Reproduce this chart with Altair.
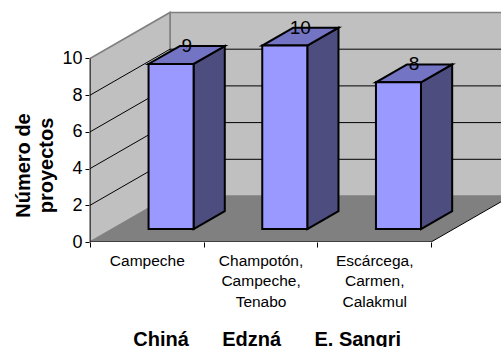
import json
import altair as alt
import pandas as pd

# ---------------- data ----------------
categories = ["Campeche", "Champotón, Campeche, Tenabo", "Escárcega, Carmen, Calakmul"]
category_lines = [["Campeche"], ["Champotón,", "Campeche,", "Tenabo"], ["Escárcega,", "Carmen,", "Calakmul"]]
values = [9, 10, 8]
groups = ["Chiná", "Edzná", "E. Sangri"]
y_ticks = [0, 2, 4, 6, 8, 10]
y_max = 10

# ---------------- 3D projection settings ----------------
PX_CAT = 113.7          # pixels per category on the front plane
PX_VAL = 18.35          # pixels per value unit
DX = 80 / PX_CAT        # depth offset (x) in category units
DY = 46 / PX_VAL        # depth offset (y) in value units
D0, D1 = 0.28, 0.67     # bar depth (front / back)
B0, B1 = 0.318, 0.714   # bar extent inside a category
N = len(values)
W, H = 411, 232
XMAX = W / PX_CAT
YMAX = H / PX_VAL
FONT = "Liberation Sans"

xs = alt.Scale(domain=[0, XMAX], nice=False, zero=False)
ys = alt.Scale(domain=[0, YMAX], nice=False, zero=False)

label_expr = " : ".join(
    f"datum.value == {i} ? {json.dumps(lines, ensure_ascii=False)}" for i, lines in enumerate(category_lines)
) + " : ''"
nb = "\u00a0" * 6
x_title = nb.join(groups)

x_axis = alt.Axis(
    values=list(range(N + 1)), domain=False, grid=False, ticks=True, tickSize=5,
    tickColor="black", labelExpr=label_expr, labelOffset=PX_CAT / 2, labelAlign="center",
    labelBaseline="top", labelPadding=6, labelFontSize=15.5, labelLineHeight=20.5,
    labelFont=FONT, labelColor="black", labelOverlap=False, labelFlush=False, labelBound=False,
    title=x_title, titleFont=FONT, titleFontSize=20, titleFontWeight="bold", titleColor="black",
    titleX=176.7, titleY=103, titleAlign="center", titleBaseline="alphabetic", titleAnchor="start")
y_axis = alt.Axis(
    values=y_ticks, domain=False, grid=False, ticks=True, tickSize=5, tickColor="black",
    labelFont=FONT, labelFontSize=18, labelColor="black", labelPadding=3,
    title=["Número de", "proyectos"], titleFont=FONT, titleFontSize=20, titleFontWeight="bold",
    titleColor="black", titleLineHeight=23, titleX=-60.7, titleY=155, titleAngle=-90,
    titleAlign="center", titleBaseline="alphabetic", titleAnchor="start")


def X(f="x"):
    return alt.X(f"{f}:Q", scale=xs, axis=x_axis)


def Y(f="y"):
    return alt.Y(f"{f}:Q", scale=ys, axis=y_axis)


# ---------------- walls & floor ----------------
back_df = pd.DataFrame([{"x": DX, "x2": N + DX, "y": DY, "y2": y_max + DY}])
back = alt.Chart(back_df).mark_rect(fill="#C0C0C0", stroke="#808080", strokeWidth=1.6, clip=True).encode(
    x=X(), x2="x2:Q", y=Y(), y2="y2:Q")

left_df = pd.DataFrame([{"x": 0, "y": 0, "y2": y_max}, {"x": DX, "y": DY, "y2": y_max + DY}])
left = alt.Chart(left_df).mark_area(fill="#C0C0C0", stroke="#808080", strokeWidth=1.6).encode(
    x=X(), y=Y(), y2="y2:Q")

floor_df = pd.DataFrame([{"y": 0, "x": 0, "x2": N}, {"y": DY, "x": DX, "x2": N + DX}])
floor = alt.Chart(floor_df).mark_area(orient="horizontal", fill="#808080", clip=True).encode(
    y=Y(), x=X(), x2="x2:Q")

grid_rows = []
for t in y_ticks[1:-1]:
    grid_rows.append({"x": 0, "y": t, "x2": DX, "y2": t + DY})
    grid_rows.append({"x": DX, "y": t + DY, "x2": N + DX, "y2": t + DY})
grid = alt.Chart(pd.DataFrame(grid_rows)).mark_rule(color="black", strokeWidth=1, clip=True).encode(
    x=X(), x2="x2:Q", y=Y(), y2="y2:Q")

edge_df = pd.DataFrame([
    {"x": 0, "y": 0, "x2": 0, "y2": y_max},
    {"x": 0, "y": 0, "x2": N, "y2": 0},
    {"x": N, "y": 0, "x2": N + DX, "y2": DY},
])
edges = alt.Chart(edge_df).mark_rule(color="black", strokeWidth=1, clip=True).encode(
    x=X(), x2="x2:Q", y=Y(), y2="y2:Q")

# ---------------- bars ----------------
front_rows, side_rows, top_rows, label_rows = [], [], [], []
for i, (c, v) in enumerate(zip(categories, values)):
    front_rows.append({"cat": c, "x": i + B0 + D0 * DX, "x2": i + B1 + D0 * DX, "y": D0 * DY, "y2": v + D0 * DY})
    for d in (D0, D1):
        side_rows.append({"cat": c, "x": i + B1 + d * DX, "y": d * DY, "y2": v + d * DY})
        top_rows.append({"cat": c, "y": v + d * DY, "x": i + B0 + d * DX, "x2": i + B1 + d * DX})
    dm = (D0 + D1) / 2
    label_rows.append({"cat": c, "label": str(v), "x": i + (B0 + B1) / 2 + dm * DX, "y": v + dm * DY})

side = alt.Chart(pd.DataFrame(side_rows)).mark_area(fill="#4D4D80", stroke="black", strokeWidth=2).encode(
    x=X(), y=Y(), y2="y2:Q", detail="cat:N")
top = alt.Chart(pd.DataFrame(top_rows)).mark_area(orient="horizontal", fill="#7474C4", stroke="black",
                                                  strokeWidth=2).encode(
    y=Y(), x=X(), x2="x2:Q", detail="cat:N")
front = alt.Chart(pd.DataFrame(front_rows)).mark_rect(fill="#9999FF", stroke="black", strokeWidth=2).encode(
    x=X(), x2="x2:Q", y=Y(), y2="y2:Q")
labels = alt.Chart(pd.DataFrame(label_rows)).mark_text(
    font=FONT, fontSize=19, color="black", baseline="alphabetic", align="center", dy=-3).encode(
    x=X(), y=Y(), text="label:N")

chart = alt.layer(back, left, floor, grid, edges, side, top, front, labels).properties(
    width=W, height=H,
    padding={"left": 90, "top": 10, "right": 0, "bottom": 105},
    autosize=alt.AutoSizeParams(type="none"),
    background="white",
).configure_view(stroke=None)

chart.save("out.html", embed_options={"renderer": "svg", "actions": False})
